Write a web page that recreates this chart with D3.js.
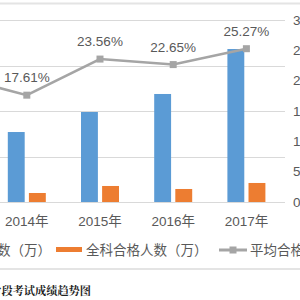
<!DOCTYPE html>
<html lang="zh">
<head>
<meta charset="UTF-8">
<title>阶段考试成绩趋势图</title>
<script src="https://cdn.jsdelivr.net/npm/d3@7"></script>
<style>
  body { margin: 0; background: #fff; }
  svg { display: block; font-family: "Liberation Sans", "Noto Sans CJK SC", sans-serif; }
</style>
</head>
<body>
<div id="chart"></div>
<script>
// chart values (2013 is mostly outside the crop)
const years = ["2013年", "2014年", "2015年", "2016年", "2017年"];
const examinees = [null, 76.9, 98.9, 118.7, 168.1];   // 参考人数（万）
const passed = [null, 9.9, 17.6, 14.3, 20.9];         // 全科合格人数（万）
const passRate = [20.79, 17.61, 23.56, 22.65, 25.27]; // 平均合格率（%）
const leftTicks = [0, 50, 100, 150, 200];
const rightTicks = [0, 5, 10, 15, 20, 25, 30];
const legendNames = ["参考人数（万）", "全科合格人数（万）", "平均合格率（%）"];
const caption = "图1 2013-2017年阶段考试成绩趋势图";

const width = 300, height = 300;
const blue = "#5b9bd5", orange = "#ed7d31", gray = "#a5a5a5", txt = "#595959";

const svg = d3.select("#chart").append("svg")
    .attr("width", width)
    .attr("height", height);

// chart border lines
svg.append("line").attr("x1", 0).attr("x2", width).attr("y1", 3.5).attr("y2", 3.5)
    .attr("stroke", "#e4e4e4").attr("stroke-width", 2);
svg.append("line").attr("x1", 0).attr("x2", width).attr("y1", 269).attr("y2", 269)
    .attr("stroke", "#e4e4e4").attr("stroke-width", 2);

const x = d3.scaleBand().domain(years).range([-83, 283]);
const x1 = d3.scaleBand().domain(["a", "b"])
    .range([x.bandwidth() / 2 - 19, x.bandwidth() / 2 + 19])
    .paddingInner(0.2);
const yL = d3.scaleLinear().domain([0, 200]).range([202, 20]);
const yR = d3.scaleLinear().domain([0, 30]).range([202, 20]);

// gridlines
svg.append("g").selectAll("line")
    .data(leftTicks)
    .join("line")
    .attr("x1", -83).attr("x2", 285)
    .attr("y1", d => Math.round(yL(d)) + 0.5)
    .attr("y2", d => Math.round(yL(d)) + 0.5)
    .attr("stroke", "#d9d9d9");

// bars
const bars = svg.append("g");
bars.selectAll("rect.a")
    .data(years.map((y, i) => ({y, v: examinees[i]})).filter(d => d.v != null))
    .join("rect")
    .attr("x", d => x(d.y) + x1("a"))
    .attr("width", x1.bandwidth())
    .attr("y", d => yL(d.v))
    .attr("height", d => yL(0) - yL(d.v))
    .attr("fill", blue);
bars.selectAll("rect.b")
    .data(years.map((y, i) => ({y, v: passed[i]})).filter(d => d.v != null))
    .join("rect")
    .attr("x", d => x(d.y) + x1("b"))
    .attr("width", x1.bandwidth())
    .attr("y", d => yL(d.v))
    .attr("height", d => yL(0) - yL(d.v))
    .attr("fill", orange);

// pass rate line
const pts = years.map((y, i) => ({y, v: passRate[i]}));
const line = d3.line()
    .x(d => x(d.y) + x.bandwidth() / 2)
    .y(d => yR(d.v));
svg.append("path")
    .datum(pts)
    .attr("d", line)
    .attr("fill", "none")
    .attr("stroke", gray)
    .attr("stroke-width", 2.5);
svg.append("g").selectAll("rect")
    .data(pts)
    .join("rect")
    .attr("x", d => x(d.y) + x.bandwidth() / 2 - 3.5)
    .attr("y", d => yR(d.v) - 3.5)
    .attr("width", 7).attr("height", 7)
    .attr("fill", gray);
svg.append("g").selectAll("text")
    .data(pts)
    .join("text")
    .attr("x", d => x(d.y) + x.bandwidth() / 2)
    .attr("y", d => yR(d.v) - 13)
    .attr("text-anchor", "middle")
    .attr("font-size", 13.5)
    .attr("fill", txt)
    .text(d => d.v.toFixed(2) + "%");

// category labels
svg.append("g").selectAll("text")
    .data(years)
    .join("text")
    .attr("x", d => x(d) + x.bandwidth() / 2)
    .attr("y", 226)
    .attr("text-anchor", "middle")
    .attr("font-size", 13.5)
    .attr("fill", txt)
    .text(d => d);

// right axis labels
svg.append("g").selectAll("text")
    .data(rightTicks)
    .join("text")
    .attr("x", 293)
    .attr("y", d => yR(d))
    .attr("dy", "0.35em")
    .attr("font-size", 13.5)
    .attr("fill", txt)
    .text(d => d + "%");

// legend
const leg = svg.append("g").attr("font-size", 13.5).attr("fill", txt);
const t0 = leg.append("text").attr("x", 51).attr("y", 250).attr("dy", "0.35em")
    .attr("text-anchor", "end").text(legendNames[0]);
const w0 = t0.node().getComputedTextLength();
leg.append("rect").attr("x", 51 - w0 - 31).attr("y", 247).attr("width", 27).attr("height", 5).attr("fill", blue);
leg.append("rect").attr("x", 56).attr("y", 247).attr("width", 26).attr("height", 5).attr("fill", orange);
leg.append("text").attr("x", 86).attr("y", 250).attr("dy", "0.35em").text(legendNames[1]);
leg.append("line").attr("x1", 219).attr("x2", 247).attr("y1", 250).attr("y2", 250)
    .attr("stroke", gray).attr("stroke-width", 3);
leg.append("rect").attr("x", 229.5).attr("y", 246.5).attr("width", 7).attr("height", 7).attr("fill", gray);
leg.append("text").attr("x", 250).attr("y", 250).attr("dy", "0.35em").text(legendNames[2]);

// caption (only its tail is inside the crop)
svg.append("text")
    .attr("x", 91)
    .attr("y", 291)
    .attr("dy", "0.35em")
    .attr("text-anchor", "end")
    .attr("font-family", "'Noto Serif CJK SC', 'Noto Sans CJK SC', serif")
    .attr("font-weight", "bold")
    .attr("font-size", 11.2)
    .attr("fill", "#222")
    .text(caption);
</script>
</body>
</html>
